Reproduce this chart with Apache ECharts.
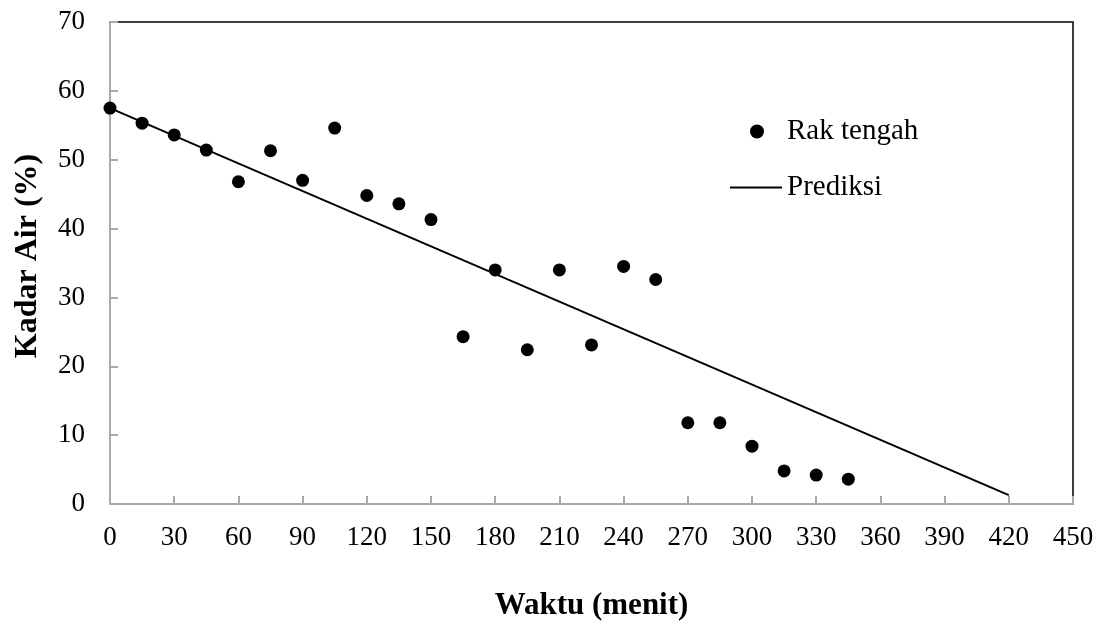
<!DOCTYPE html>
<html><head><meta charset="utf-8">
<script src="https://cdn.jsdelivr.net/npm/echarts@6/dist/echarts.min.js"></script>
<style>html,body{margin:0;padding:0;background:#fff}#c{width:1097px;height:626px}</style>
</head><body><div id="c"></div>
<script>
const times = [0,15,30,45,60,75,90,105,120,135,150,165,180,195,210,225,240,255,270,285,300,315,330,345];
const kadarAir = [57.5,55.3,53.6,51.4,46.8,51.3,47.0,54.6,44.8,43.6,41.3,24.3,34.0,22.4,34.0,23.1,34.5,32.6,11.8,11.8,8.4,4.8,4.2,3.6];
const predX = [0,420];
const predY = [57.5,1.3];
const xTicks = [0,30,60,90,120,150,180,210,240,270,300,330,360,390,420,450];
const yTicks = [0,10,20,30,40,50,60,70];

const font = 'Liberation Serif';
const chart = echarts.init(document.getElementById('c'));
chart.setOption({
  animation:false,
  textStyle:{fontFamily:font},
  grid:{left:110,right:24,top:22,bottom:121,show:true,borderColor:'#000',borderWidth:1.5,backgroundColor:'transparent'},
  legend:[
    {orient:'horizontal', left:750, top:117, padding:0, itemWidth:14, itemHeight:14,
     textStyle:{fontFamily:font,fontSize:29,color:'#000',padding:[0,0,0,18]},
     data:[{name:'Rak tengah',icon:'circle',itemStyle:{color:'#000',opacity:1}}]},
    {orient:'horizontal', left:730, top:173, padding:0, itemWidth:52, itemHeight:2,
     textStyle:{fontFamily:font,fontSize:29,color:'#000'},
     data:[{name:'Prediksi',icon:'rect',itemStyle:{color:'#000'}}]}
  ],
  xAxis:{
    type:'value', min:0, max:450, interval:30,
    name:'Waktu (menit)', nameLocation:'middle', nameGap:86,
    nameTextStyle:{fontFamily:font,fontSize:31,fontWeight:'bold',color:'#000'},
    axisLine:{show:true,lineStyle:{color:'#aaa',width:2}},
    axisTick:{show:true,inside:true,length:8,lineStyle:{color:'#aaa',width:2}},
    axisLabel:{fontFamily:font,fontSize:27,color:'#000',margin:20,
      formatter:v=>xTicks.includes(v)?String(v):''},
    splitLine:{show:false}
  },
  yAxis:{
    type:'value', min:0, max:70, interval:10,
    name:'Kadar Air (%)', nameLocation:'middle', nameGap:66, nameRotate:90,
    nameTextStyle:{fontFamily:font,fontSize:32,fontWeight:'bold',color:'#000',padding:[0,0,0,14]},
    axisLine:{show:true,lineStyle:{color:'#aaa',width:2}},
    axisTick:{show:true,inside:true,length:8,lineStyle:{color:'#aaa',width:2}},
    axisLabel:{fontFamily:font,fontSize:27,color:'#000',margin:25,
      formatter:v=>yTicks.includes(v)?String(v):''},
    splitLine:{show:false}
  },
  series:[
    {name:'Rak tengah',type:'scatter',symbol:'circle',symbolSize:13,
     itemStyle:{color:'#000',opacity:1},
     data:times.map((t,i)=>[t,kadarAir[i]]),z:3},
    {name:'Prediksi',type:'line',symbol:'none',
     lineStyle:{color:'#000',width:2},itemStyle:{color:'#000'},
     data:predX.map((t,i)=>[t,predY[i]]),z:2}
  ]
});
</script></body></html>
